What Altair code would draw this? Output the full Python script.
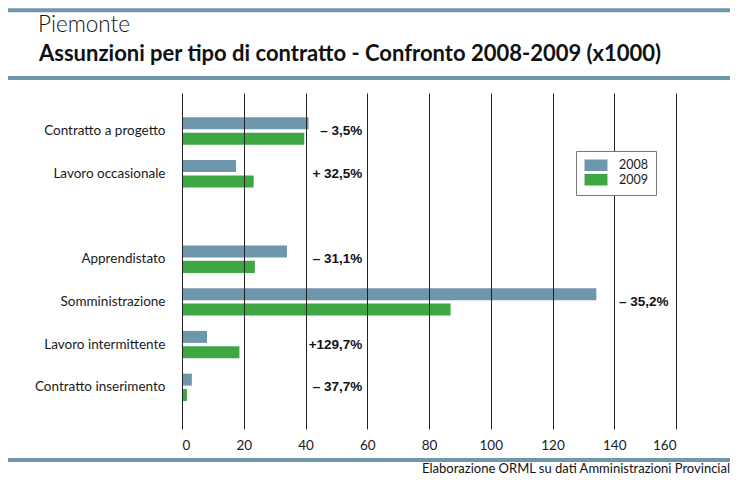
import altair as alt
import pandas as pd

# ---- data (values in thousands) ----
categories = ["Contratto a progetto", "Lavoro occasionale", "Apprendistato",
              "Somministrazione", "Lavoro intermittente", "Contratto inserimento"]
v2008 = [41.0, 17.5, 34.0, 134.2, 8.1, 3.2]
v2009 = [39.6, 23.2, 23.6, 87.0, 18.6, 1.6]
changes = ["– 3,5%", "+ 32,5%", "– 31,1%", "– 35,2%", "+129,7%", "– 37,7%"]
years = ["2008", "2009"]
x_ticks = [0, 20, 40, 60, 80, 100, 120, 140, 160]

title_top = "Piemonte"
title_main = "Assunzioni per tipo di contratto - Confronto 2008-2009 (x1000)"
source = "Elaborazione ORML su dati Amministrazioni Provincial"

BLUE = "#6f97ab"
GREEN = "#3da744"
FONT = "Lato"

y_domain = categories[:2] + [" "] + categories[2:]

bars_df = pd.DataFrame({
    "categoria": categories * 2,
    "anno": [years[0]] * len(categories) + [years[1]] * len(categories),
    "valore": v2008 + v2009,
})
labels_df = pd.DataFrame({
    "categoria": categories,
    "v2008": v2008,
    "v2009": v2009,
    "variazione": changes,
})

y_scale = alt.Scale(domain=y_domain, paddingInner=0.358, paddingOuter=0.6124,
                    align=0.465, round=False)
y_axis = alt.Axis(title=None, ticks=False, domain=False, labelPadding=17,
                  labelFont=FONT, labelFontSize=13.5, labelColor="#1a1a1a")
x_scale = alt.Scale(domain=[0, 160], nice=False)
x_axis = alt.Axis(title=None, values=x_ticks, grid=True, gridColor="#222222",
                  gridWidth=1, gridOpacity=1, ticks=False, domain=False,
                  labelPadding=9, labelFont=FONT, labelFontSize=13.5,
                  labelColor="#1a1a1a", format="d", zindex=1)

bars = alt.Chart(bars_df).mark_bar().encode(
    y=alt.Y("categoria:N", sort=y_domain, scale=y_scale, axis=y_axis),
    yOffset=alt.YOffset("anno:N", scale=alt.Scale(domain=years, paddingInner=0.221,
                                                  paddingOuter=0, round=False)),
    x=alt.X("valore:Q", scale=x_scale, axis=x_axis),
    color=alt.Color("anno:N", scale=alt.Scale(domain=years, range=[BLUE, GREEN]),
                    legend=alt.Legend(title=None, orient="none", legendX=394, legendY=58,
                                      symbolType="M-1,-1H3V1H-1Z", symbolSize=132,
                                      symbolStrokeWidth=0, labelFont=FONT,
                                      labelFontSize=12.5, labelColor="#1a1a1a",
                                      labelOffset=22.5, padding=8, rowPadding=1.5,
                                      strokeColor="#777777", fillColor="white",
                                      zindex=2)),
)

labels = alt.Chart(labels_df).transform_calculate(
    pos="datum.v2008 > 100 ? 157.6 : 58.4"
).mark_text(align="right", baseline="middle", font="Liberation Sans",
            fontWeight="bold", fontSize=13.5, color="#111111").encode(
    y=alt.Y("categoria:N", sort=y_domain, scale=y_scale, axis=y_axis),
    x=alt.X("pos:Q", scale=x_scale, axis=x_axis),
    text="variazione:N",
)

one = alt.Data(values=[{}])


def hline(ypix):
    return alt.Chart(one).mark_rule(color=BLUE, strokeWidth=4).encode(
        x=alt.value(-174), x2=alt.value(548), y=alt.value(ypix))


def label(txt, xpix, ypix, size, weight="normal", align="left"):
    return alt.Chart(one).mark_text(text=txt, align=align, baseline="alphabetic",
                                    font=FONT, fontSize=size, fontWeight=weight,
                                    color="#111111").encode(
        x=alt.value(xpix), y=alt.value(ypix))


chart = alt.layer(
    bars,
    labels,
    hline(-82.7),
    hline(-15),
    hline(367),
    label(title_top, -144, -61, 22.5, weight=300),
    label(title_main, -143, -32, 22, weight="bold"),
    label(source, 548, 380, 13, align="right"),
).properties(
    width=494,
    height=336,
    padding={"left": 174, "top": 85, "right": 54, "bottom": 48},
    autosize=alt.AutoSizeParams(type="none"),
).configure_view(stroke=None)

chart.save("out.html", embed_options={"renderer": "svg", "actions": False})
